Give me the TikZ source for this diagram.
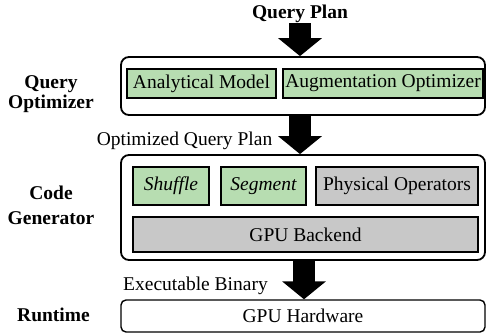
\documentclass[tikz,border=0pt]{standalone}
\usepackage{fontspec}
\setmainfont{Liberation Serif}
\usetikzlibrary{arrows.meta}
\definecolor{boxgreen}{RGB}{183,221,177}
\definecolor{boxgray}{RGB}{200,200,200}
\begin{document}
\begin{tikzpicture}[x=1pt,y=-1pt,
  txt/.style={font=\fontsize{19.5}{20}\selectfont, inner sep=0pt},
  lbl/.style={font=\fontsize{19.5}{20}\selectfont\bfseries, align=center, inner sep=0pt},
  outer/.style={draw, line width=1.8pt, rounded corners=8pt, inner sep=0pt},
  inbox/.style={draw, line width=1.4pt, inner sep=0pt, font=\fontsize{19.5}{20}\selectfont},
  greenbox/.style={inbox, fill=boxgreen},
  graybox/.style={inbox, fill=boxgray},
  fat/.style={line width=21.5pt, -{Triangle[width=43pt,length=18pt]}}
]
\useasboundingbox (0,0) rectangle (487,335);
% top label
\node[lbl] (qp) at (300,14) {Query Plan};
% query optimizer
\node[outer, minimum width=364pt, minimum height=58pt] (qo) at (303,86) {};
\node[greenbox, minimum width=149pt, minimum height=29pt] (am) at (201.5,83.5) {Analytical Model};
\node[greenbox, minimum width=200pt, minimum height=29pt] (ao) at (383,83.5) {Augmentation Optimizer};
\node[lbl] (qol) at (51,94.5) {Query\\Optimizer};
% code generator
\node[outer, minimum width=364pt, minimum height=105pt] (cg) at (303,207.5) {};
\node[greenbox, minimum width=76pt, minimum height=38pt] (sh) at (171,186) {\itshape Shuffle};
\node[greenbox, minimum width=85pt, minimum height=38pt] (sg) at (263.5,186) {\itshape Segment};
\node[graybox, minimum width=162pt, minimum height=38pt] (po) at (397,186) {Physical Operators};
\node[graybox, minimum width=345pt, minimum height=35pt] (gb) at (305.5,234.5) {GPU Backend};
\node[lbl] (cgl) at (51,205) {Code\\[5pt]Generator};
% runtime
\node[outer, rounded corners=5pt, line width=1.4pt, minimum width=364pt, minimum height=32pt, font=\fontsize{19.5}{20}\selectfont] (hw) at (303,316) {GPU Hardware};
\node[lbl] (rtl) at (53.5,314.5) {Runtime};
% arrow labels
\node[txt] (oqp) at (184.5,140.5) {Optimized Query Plan};
\node[txt] (eb) at (195.5,285.5) {Executable Binary};
% fat arrows
\draw[fat] (qp.south) -- (qp.south |- qo.north);
\draw[fat] (qp.south |- qo.south) -- (qp.south |- cg.north);
\draw[fat] ([xshift=1pt]cg.south) -- ([xshift=1pt]hw.north);
\end{tikzpicture}
\end{document}
